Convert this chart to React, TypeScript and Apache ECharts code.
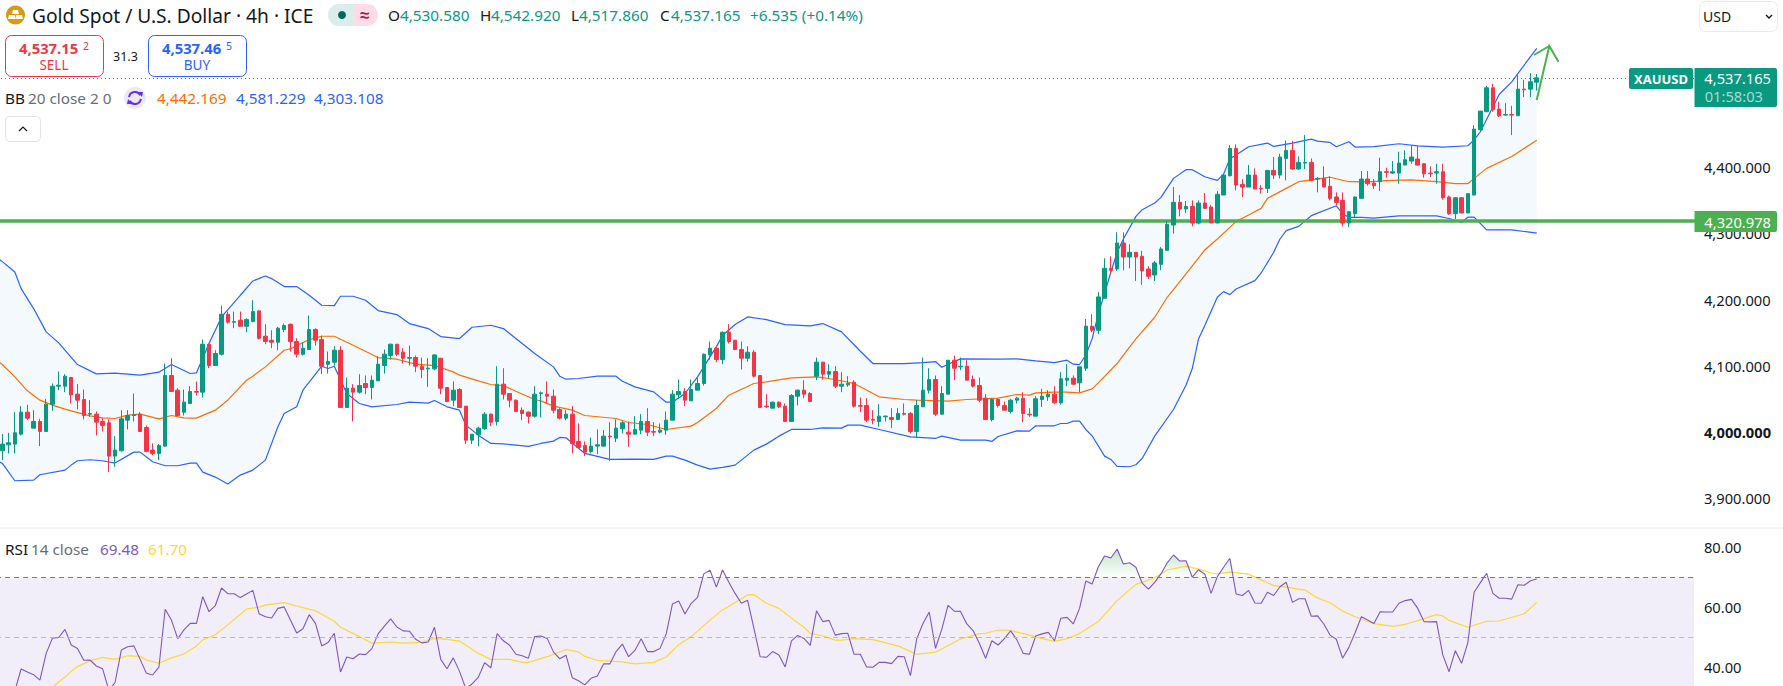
import React, { useEffect, useRef } from "react";
import * as echarts from "echarts";

// Values, one entry per 4h bar.
const opens = [3974,3983,3984,3999,4032,4008,4018,4003,4044,4071,4071,4084,4059,4051,4029,4029,4018,4016,3966,3974,4020,4027,4029,4009,3975,3970,3981,4087,4065,4032,4045,4063,4062,4134,4102,4119,4179,4167,4170,4161,4168,4184,4146,4140,4137,4156,4164,4138,4119,4126,4156,4141,4104,4107,4125,4039,4068,4062,4075,4069,4079,4102,4117,4134,4122,4113,4114,4101,4097,4097,4113,4069,4050,4066,4041,3990,3998,4007,4029,4018,4074,4060,4050,4035,4032,4026,4060,4059,4056,4036,4023,4029,3988,3982,3973,3981,3981,3996,3993,4007,4002,3999,4005,4018,4003,4002,4005,4020,4058,4063,4049,4065,4075,4118,4128,4111,4152,4140,4126,4113,4122,4087,4041,4038,4047,4041,4018,4056,4065,4060,4086,4107,4089,4093,4071,4073,4077,4042,4042,4021,4018,4025,4024,4021,4030,4030,4003,4040,4065,4081,4029,4059,4110,4100,4101,4081,4072,4053,4021,4051,4042,4033,4050,4053,4029,4026,4051,4055,4059,4046,4080,4083,4076,4098,4161,4155,4203,4248,4247,4286,4265,4272,4266,4247,4238,4254,4275,4313,4347,4337,4341,4316,4346,4340,4316,4358,4387,4428,4374,4370,4388,4368,4368,4395,4388,4413,4425,4397,4406,4407,4382,4383,4371,4355,4350,4316,4330,4353,4382,4376,4378,4393,4391,4391,4403,4409,4412,4405,4391,4391,4393,4355,4330,4354,4331,4358,4456,4483,4519,4487,4478,4479,4477,4517,4517];
const closes = [3984,3986,4001,4032,4023,4018,4003,4044,4071,4072.5,4086,4058,4050,4027,4030,4017,4012,3966,3975,4022,4027,4028,4003,3973,3970,3982,4087,4063,4027,4047,4063,4062,4134,4102,4120,4179,4167,4168,4161,4171,4183,4143,4138,4137,4158,4162,4138,4119,4128,4156,4140,4101,4108,4125,4039,4068,4062,4072,4069,4080,4104,4119,4134,4119,4113,4114,4101,4096,4098,4118,4068,4048,4065,4039,3990,3999,4008,4029,4017,4074,4059,4050,4033,4030,4026,4059,4061,4056,4035,4023,4029,3985,3979,3972,3981,3983,3996,3995,4008,4016,3999,4006,4018,4002,4002,4005,4020,4059,4063,4050,4066,4075,4119,4128,4111,4152,4138,4126,4113,4122,4086,4039,4040,4047,4040,4018,4057,4065,4059,4048,4107,4089,4093,4071,4074,4075,4041,4041,4020,4020,4026,4026,4021,4030,4029,4003,4042,4065,4081,4029,4060,4110,4098,4101,4080,4071,4050,4021,4051,4042,4035,4050,4053,4030,4028,4052,4056,4059,4046,4082,4083,4074,4100,4161,4155,4205,4248,4245,4286,4265,4272,4265,4244,4236,4256,4277,4314,4347,4337,4341,4316,4346,4338,4316,4359,4388,4428,4373,4370,4388,4367,4367,4395,4388,4415,4425,4397,4407,4407,4380,4383,4370,4353,4347,4316,4333,4355,4382,4375,4372,4393,4392,4393,4406,4411,4415,4403,4390,4390,4393,4354,4330,4354,4331,4360,4457,4484,4519,4486,4477,4479,4478,4517,4516,4528];
const highs = [3999,4001,4032,4041,4043,4035,4022,4052,4075,4093,4089,4085,4074,4066,4050,4033,4023,4021,3996,4035,4035,4060,4032,4012,3985,3984,4105,4113,4068,4066,4071,4078,4141,4135,4125,4192,4183,4183,4183,4173,4200,4185,4164,4155,4160,4165,4165,4143,4137,4177,4158,4147,4123,4131,4131,4084,4074,4089,4087,4087,4116,4126,4135,4134,4128,4132,4117,4114,4113,4119,4113,4069,4078,4068,4041,3999,4010,4032,4030,4101,4098,4060,4051,4039,4033,4071,4063,4078,4066,4038,4035,4041,4015,3988,3994,4006,4005,4017,4021,4019,4018,4026,4029,4038,4017,4015,4033,4065,4081,4068,4081,4084,4120,4138,4132,4153,4164,4140,4138,4131,4125,4087,4059,4048,4048,4045,4059,4066,4080,4062,4114,4108,4104,4101,4092,4086,4080,4054,4053,4035,4044,4027,4038,4038,4045,4032,4050,4114,4098,4087,4071,4110,4117,4114,4110,4087,4084,4059,4053,4053,4048,4052,4055,4062,4038,4056,4067,4065,4071,4092,4104,4087,4100,4172,4179,4212,4263,4266,4302,4302,4284,4272,4274,4251,4259,4280,4319,4370,4358,4349,4350,4350,4361,4343,4364,4388,4433,4434,4382,4403,4398,4373,4395,4415,4420,4440,4439,4416,4448,4413,4385,4401,4386,4362,4362,4333,4356,4394,4394,4382,4414,4399,4409,4423,4425,4432,4432,4406,4401,4405,4405,4357,4355,4354,4361,4463,4484,4522,4525,4498,4496,4492,4538,4531,4541];
const lows = [3960,3970,3970,3997,4020,4008,3981,4003,4034,4065,4062,4045,4036,4021,4025,3997,4003,3942,3950,3973,4006,4018,4003,3972,3967,3960,3980,4063,4026,4027,4044,4057,4054,4098,4102,4117,4165,4158,4161,4152,4167,4141,4134,4128,4125,4152,4123,4114,4117,4126,4132,4089,4090,4102,4039,4038,4018,4060,4059,4051,4079,4090,4111,4116,4105,4102,4092,4083,4070,4095,4059,4047,4041,4039,3984,3984,3981,4005,4011,4012,4051,4039,4033,4020,4015,4024,4024,4045,4030,4021,4020,3970,3978,3966,3970,3969,3980,3959,3987,4000,3980,3999,3999,3996,3996,4000,3998,4020,4052,4041,4049,4065,4072,4111,4107,4104,4135,4125,4096,4108,4084,4038,4038,4038,4038,4018,4018,4042,4053,4047,4080,4081,4083,4068,4062,4070,4039,4032,4017,4014,4010,4018,4008,4020,4027,4000,3993,4040,4060,4026,4028,4059,4080,4095,4080,4069,4047,4020,4018,4039,4035,4030,4045,4017,4025,4026,4040,4049,4044,4043,4071,4073,4062,4094,4152,4149,4203,4241,4244,4245,4248,4229,4223,4232,4229,4245,4275,4300,4326,4331,4311,4314,4338,4316,4316,4358,4386,4365,4355,4370,4367,4360,4361,4382,4383,4380,4396,4396,4397,4379,4362,4370,4350,4343,4311,4310,4325,4353,4372,4367,4364,4384,4390,4375,4403,4405,4402,4384,4385,4375,4351,4328,4322,4331,4331,4358,4453,4483,4483,4475,4477,4448,4477,4505,4505];
const lastBar = { open: 4530.58, close: 4537.165, low: 4517.86, high: 4542.92 };

// Bollinger bands: [bar number, price] at each corner of the drawn lines.
const bbUpper = [[-1,4265],[0,4258],[2,4242.5],[3,4217.5],[5,4187.5],[7,4152.5],[9,4136],[12,4103.5],[15,4089.5],[18,4090.5],[22,4087.5],[25,4092],[27,4103.5],[30,4090],[31,4091],[33,4135],[35,4175],[38,4207.5],[40,4229],[42,4236.5],[43,4232.5],[45,4220.5],[47,4220.5],[49,4207.5],[51,4192.5],[53,4192],[54,4206],[56,4206],[58,4200],[60,4184.5],[63,4178.5],[65,4165],[68,4157.5],[70,4145.5],[73,4142.5],[75,4159.5],[78,4162.5],[80,4157.5],[81,4150],[83,4135],[85,4120],[88,4100],[89,4086],[90,4081.5],[92,4082.5],[95,4086],[98,4086],[99,4078.5],[101,4070],[104,4062.5],[106,4047],[107,4047],[109,4060],[111,4085],[114,4130],[115,4147.5],[117,4163.5],[119,4175],[122,4171],[125,4163.5],[129,4161.5],[131,4165],[134,4152.5],[137,4123.5],[139,4105],[144,4105],[147,4106.5],[149,4108],[150,4099.5],[151,4104],[153,4112],[159,4111.5],[162,4112],[165,4109],[168,4106.5],[170,4110],[171,4104],[172,4103.5],[173,4117.5],[174,4142],[175,4179.5],[177,4242],[178,4272],[179,4292],[181,4326],[182,4336],[184,4346],[185,4354.5],[187,4383],[189,4396],[190,4396],[192,4385.5],[194,4380],[195,4389.5],[196,4412],[199,4430.5],[202,4436],[203,4431],[206,4436],[209,4442],[210,4439],[212,4437],[213,4430.5],[215,4438],[216,4430],[219,4430.75],[223,4435],[226,4431.75],[230,4430],[234,4432],[235,4440.75],[236,4453],[239,4509],[241,4528],[245,4578.25]];
const bbBasis = [[-1,4110],[0,4103.5],[2,4085],[4,4064],[6,4050],[8,4042.5],[10,4036.5],[14,4026.5],[16,4023.5],[18,4022.5],[20,4027.5],[22,4029],[25,4022],[27,4027],[29,4023.5],[31,4023],[34,4035],[36,4050],[39,4080],[40,4086],[42,4100],[45,4125],[46,4127],[49,4141],[51,4146],[53,4146],[56,4132.5],[60,4114],[63,4111.5],[66,4104],[69,4102],[72,4092.5],[73,4087.5],[76,4079],[78,4073.5],[80,4072],[82,4063.5],[85,4051],[86,4049],[88,4041],[91,4035],[93,4027],[98,4022.5],[100,4016.5],[103,4013.5],[106,4006],[110,4011],[111,4016.5],[114,4037.5],[116,4057.5],[120,4075],[122,4077.5],[126,4083.5],[130,4085],[133,4081],[136,4075],[140,4055],[144,4051],[146,4050],[151,4048.5],[154,4051],[159,4053],[162,4058.5],[164,4057.5],[165,4061],[168,4062],[170,4062],[172,4061],[174,4067],[175,4076],[178,4105],[180,4130],[181,4142],[184,4174.5],[186,4204.5],[189,4239.5],[192,4275.5],[194,4292],[196,4309.5],[197,4318.5],[199,4328],[201,4338],[202,4353],[205,4368],[207,4378],[210,4381.75],[212,4384.75],[215,4378],[218,4377.75],[221,4379.75],[225,4380.75],[229,4378],[232,4375],[234,4375],[235,4383],[237,4398],[241,4415.75],[245,4440.25]];
const bbLower = [[-1,3960],[0,3955],[2,3929],[5,3930],[6,3938],[10,3945],[11,3952.5],[12,3959],[14,3960.5],[16,3959],[18,3955.5],[21,3972],[22,3972],[24,3957.5],[26,3951.5],[28,3951.5],[30,3955.5],[31,3955.5],[32,3942],[34,3934.5],[36,3924],[38,3937.5],[40,3945],[41,3952.5],[42,3960],[44,4010],[45,4030],[47,4040],[48,4065],[51,4101],[52,4097.5],[53,4101],[55,4060],[57,4045],[59,4040],[63,4043.5],[65,4047],[68,4045.5],[69,4049.5],[71,4040],[73,4035],[74,4012.5],[76,3997.5],[78,3985],[80,3984.5],[84,3980.5],[86,3985],[88,3988.5],[89,3994],[90,3993.5],[93,3970],[97,3961],[101,3961.5],[104,3961],[106,3966],[107,3966],[109,3960],[111,3952.5],[113,3946.5],[115,3949],[117,3952.5],[118,3960],[120,3975],[122,3984],[124,3996],[126,4006],[129,4006],[131,4008.5],[134,4008],[135,4012.5],[137,4012.5],[140,4006],[145,3995],[149,3992.5],[150,3996],[153,3990],[157,3990],[158,3988],[159,3995.5],[162,4004],[164,4003.5],[165,4011.5],[168,4011.5],[169,4015],[170,4015],[171,4018.5],[172,4018.5],[173,4006],[174,3996.5],[176,3966],[177,3961],[178,3950.5],[180,3950],[181,3953],[182,3962.5],[184,3996],[187,4036],[189,4072.5],[190,4097.5],[191,4142],[192,4162],[194,4204.5],[195,4213],[196,4208.5],[197,4217],[200,4229.5],[201,4241],[203,4272],[204,4292],[205,4304.5],[207,4311],[209,4327],[213,4342],[214,4329.5],[215,4324.5],[217,4324.5],[219,4323.25],[223,4326.75],[229,4326.75],[231,4322.75],[233,4316.75],[234,4324.75],[235,4324.75],[237,4305.75],[241,4305.75],[245,4300.75]];

const rsiValues = [29,30,32.2,39.5,38.5,37.6,35.8,44.7,49.8,50,52.7,47.5,46.3,42.4,42.5,40.5,39.6,32.5,35,45.8,46.9,47.2,42.7,38.1,37.5,40.1,59.4,55.8,49.6,52.5,54.7,54.7,63.6,58.6,60.6,66.5,64.6,64.6,63.3,64.5,65.7,57.9,56.9,56.5,59.7,60.2,55.8,51.5,52.9,57.6,54.7,47.2,48.3,51.4,38.5,43.5,42.9,44.5,44.3,46.3,51.2,53.8,56.2,53.5,52.2,52.1,49.4,48.2,48.5,53.4,42.7,39.6,43.2,38.7,33,34.5,36.7,41.6,39.9,51.3,48.9,47.4,44.4,43.9,43.1,50.3,50.5,49.7,45.2,42.9,44.1,36.6,35.6,34.2,36.4,37.2,41.2,41.2,45.3,47.8,43.6,45.7,49.6,45.3,45.3,46.3,51.2,61.2,62.2,57.8,61.4,63.4,71.2,72.4,66.8,72.5,68.4,64.7,61.4,62.4,53.1,43.6,43.4,45.3,44.2,40.2,48.9,50.7,49.7,47.4,58.9,55.3,55.7,50.8,51.3,51.4,44.4,44.4,40.2,40.1,41.7,41.7,41.3,43.7,43.6,37.3,49.5,54.7,58.5,46.4,52.7,60.7,58.8,58.7,54.5,52.3,48.1,43.1,48.9,47.5,49.6,52.2,49.2,44.7,44.4,50.5,51.2,51.7,48.9,56.4,56.7,54.5,59.7,68.8,67.8,73.6,77.2,76.5,79.5,74.5,74.9,73.4,68.1,66.1,68.4,71.2,74.9,77.5,75.5,75.6,70.1,72.6,71.1,64.7,70.3,73.4,76.4,64.5,64,65.7,61.5,61.4,65.1,64,66.9,68.4,61.7,62.9,62.9,57.1,57.2,54.5,50.8,49.4,43.1,46.7,51.6,56.9,55.8,54.7,58.6,58.5,58.5,61.4,62.3,62.7,59.7,55.3,55.2,55.3,44.2,38.6,45.6,41.4,48.3,65.1,68.3,71.4,64.7,63.1,63.1,62.8,67.6,67.4,68.9,69.48];
const rsiAverage = [[8,33.5],[10,36.8],[11,38.7],[12,40.3],[14,42.2],[16,43.4],[18,42.7],[20,43.9],[22,43.7],[23,42.5],[25,41.4],[27,43.2],[29,44.5],[31,47.2],[32,49.2],[34,50.9],[36,54.2],[39,59.5],[41,60.1],[42,60.8],[45,61.6],[47,60.5],[50,58.9],[53,55.4],[54,53.4],[57,50.3],[59,48.1],[62,48.5],[64,48.1],[67,48.4],[69,49.7],[71,49.4],[73,48.8],[76,44.7],[78,42.7],[81,42.7],[83,41.7],[84,41.7],[87,43.6],[90,46],[92,45.2],[93,43.7],[95,42.4],[99,41.9],[101,41.2],[104,41.7],[106,43.5],[108,47.6],[110,50.3],[113,55.8],[115,59.2],[119,64.2],[120,64.3],[122,61.4],[124,59.7],[127,54.9],[128,53.4],[129,51.4],[131,50.5],[133,49.1],[134,49.1],[136,49.6],[139,49.3],[143,47.2],[146,44.4],[149,45.1],[153,49.5],[156,51.3],[157,51.4],[159,52.5],[161,52.4],[162,51.8],[164,50.8],[165,50.1],[168,48.7],[170,49.6],[172,51.3],[175,55.3],[178,62.3],[181,67.7],[184,69.9],[186,72.5],[189,73.8],[191,72.8],[193,71.5],[194,71.2],[196,71.8],[199,71.1],[201,69.2],[203,67.3],[205,66.8],[208,65.8],[210,63.2],[212,61.6],[214,58.8],[216,56.9],[219,54.6],[222,53.7],[224,54.4],[226,55.6],[229,57.6],[230,57.2],[231,55.7],[234,53.4],[237,55.4],[239,55.5],[243,57.9],[245,61.7]];

const priceTicks = [3900, 4000, 4100, 4200, 4300, 4400];
const rsiTicks = [40, 60, 80];
const supportLevel = 4320.978;
const rsiOverbought = 70;
const rsiMiddle = 50;

const FONT = "'Noto Sans', sans-serif";
const UP = "#089981";
const DOWN = "#F23645";
const BLUE = "#2962FF";
const ORANGE = "#FF6D00";
const PURPLE = "#7E57C2";
const YELLOW = "#FDD835";
const LEVEL = "#4CAF50";
const INK = "#131722";
const GREY = "#6A6D78";

// The chart's div sticks out this far past the left page edge so that the
// plot (and its lines) can start left of the page, as in the reference.
const BLEED = 20;

// Readings were taken with a slightly-off ruler; this maps them onto the printed scale.
const ruler = (v: number) => 4000 + (v - 4000) * 1.0061;
const LEAD = 1; // one empty slot before the first bar, so the lines reach the left edge
const SLOTS = 272;
const categories = Array.from({ length: SLOTS }, (_, i) => String(i));
const knots = (rows: number[][], scale = true) =>
  rows.map(([i, v]) => [i + LEAD, scale ? ruler(v) : v]);

const fmtPrice = (v: number) =>
  v.toFixed(3).replace(/\B(?=(\d{3})+(?!\d))(?=.*\.)/g, ",");

const txt = (text: string, x: number, y: number, size: number, fill: string, extra: any = {}) => ({
  type: "text",
  z: 100,
  silent: true,
  style: {
    text, x, y, fill, fontSize: size, fontFamily: FONT,
    verticalAlign: "middle", align: "left", ...extra,
  },
});
const box = (x: number, y: number, width: number, height: number, style: any, r: any = 0) => ({
  type: "rect",
  z: 90,
  silent: true,
  shape: { x, y, width, height, r },
  style,
});

function buildGraphics() {
  const LEG = 15.3;
  const g: any[] = [
    // RSI 30-70 band and pane divider
    { type: "rect", z: 0, silent: true, shape: { x: 0, y: 577.5, width: 1694, height: 109 }, style: { fill: "#F1EDF9" } },
    { type: "line", z: 1, silent: true, shape: { x1: 0, y1: 528, x2: 1783, y2: 528 }, style: { stroke: "#E6E8EE", lineWidth: 1 } },

    // header
    { type: "circle", z: 90, silent: true, shape: { cx: 15.5, cy: 15, r: 9.5 }, style: { fill: "#D99A0F" } },
    { type: "polygon", z: 91, silent: true, shape: { points: [[13, 10], [18, 10], [19, 14], [12, 14]] }, style: { fill: "#FFF" } },
    { type: "polygon", z: 91, silent: true, shape: { points: [[9, 15], [15, 15], [15.5, 19], [8, 19]] }, style: { fill: "#FFF" } },
    { type: "polygon", z: 91, silent: true, shape: { points: [[16, 15], [22, 15], [23, 19], [15.5, 19]] }, style: { fill: "#FFF" } },
    txt("Gold Spot / U.S. Dollar · 4h · ICE", 32, 15, 19.2, INK),
    box(328, 4, 25, 22, { fill: "#D7EEEA" }, [11, 0, 0, 11]),
    box(353, 4, 25, 22, { fill: "#FBDCE7" }, [0, 11, 11, 0]),
    { type: "circle", z: 91, silent: true, shape: { cx: 342, cy: 15, r: 4 }, style: { fill: "#00695C" } },
    txt("≈", 360, 14, 17, "#B0155E", { fontWeight: "bold" }),
    txt("O", 388, 15, LEG, INK),
    txt("4,530.580", 400, 15, LEG, UP),
    txt("H", 480, 15, LEG, INK),
    txt("4,542.920", 491, 15, LEG, UP),
    txt("L", 571, 15, LEG, INK),
    txt("4,517.860", 579, 15, LEG, UP),
    txt("C", 660, 15, LEG, INK),
    txt("4,537.165", 671, 15, LEG, UP),
    txt("+6.535 (+0.14%)", 750, 15, LEG, UP),

    // sell / buy
    box(5.5, 35.5, 98, 41, { fill: "#FFF", stroke: DOWN, lineWidth: 1 }, 6),
    txt("4,537.15", 19, 48, 14.8, DOWN, { fontWeight: "bold" }),
    txt("2", 83, 46, 10.5, DOWN),
    txt("SELL", 54, 65, 13.5, DOWN, { align: "center" }),
    txt("31.3", 113, 56, 12.5, INK),
    box(148.5, 35.5, 98, 41, { fill: "#FFF", stroke: BLUE, lineWidth: 1 }, 6),
    txt("4,537.46", 162, 48, 14.8, BLUE, { fontWeight: "bold" }),
    txt("5", 226, 46, 10.5, BLUE),
    txt("BUY", 197, 65, 13.5, BLUE, { align: "center" }),

    // Bollinger legend
    txt("BB", 5, 98, LEG, INK),
    txt("20 close 2 0", 28, 98, LEG, GREY),
    { type: "circle", z: 90, silent: true, shape: { cx: 135, cy: 98, r: 11 }, style: { fill: "#EDE7F6" } },
    { type: "arc", z: 91, silent: true, shape: { cx: 135, cy: 98, r: 6, startAngle: Math.PI * 1.05, endAngle: Math.PI * 1.85 }, style: { stroke: "#5E35E8", lineWidth: 2, fill: "none" } },
    { type: "arc", z: 91, silent: true, shape: { cx: 135, cy: 98, r: 6, startAngle: Math.PI * 0.05, endAngle: Math.PI * 0.85 }, style: { stroke: "#5E35E8", lineWidth: 2, fill: "none" } },
    { type: "polygon", z: 91, silent: true, shape: { points: [[138, 92], [143, 92], [142, 97]] }, style: { fill: "#5E35E8" } },
    { type: "polygon", z: 91, silent: true, shape: { points: [[127, 104], [132, 104], [128, 99]] }, style: { fill: "#5E35E8" } },
    txt("4,442.169", 157, 98, LEG, ORANGE),
    txt("4,581.229", 236, 98, LEG, BLUE),
    txt("4,303.108", 314, 98, LEG, BLUE),

    // collapse button
    box(5.5, 116.5, 35, 25, { fill: "#FFF", stroke: "#E0E3EB", lineWidth: 1 }, 4),
    { type: "polyline", z: 91, silent: true, shape: { points: [[19, 131], [23, 127], [27, 131]] }, style: { stroke: INK, lineWidth: 1.2, fill: "none" } },

    // currency selector
    box(1699.5, 1.5, 78, 30, { fill: "#FFF", stroke: "#E8EAEF", lineWidth: 1 }, 6),
    txt("USD", 1703, 16, 14, INK),
    { type: "polyline", z: 91, silent: true, shape: { points: [[1766, 15], [1769, 18], [1772, 15]] }, style: { stroke: INK, lineWidth: 1.4, fill: "none" } },

    // RSI legend
    txt("RSI", 5, 549, LEG, INK),
    txt("14 close", 31, 549, LEG, GREY),
    txt("69.48", 100, 549, LEG, PURPLE),
    txt("61.70", 148, 549, LEG, YELLOW),

    // drawn arrow
    { type: "polyline", z: 60, silent: true, shape: { points: [[1536.7, 100], [1549.3, 46], [1558.5, 61.7]] }, style: { stroke: LEVEL, lineWidth: 2, fill: "none" } },
    { type: "line", z: 60, silent: true, shape: { x1: 1534, y1: 55, x2: 1549.3, y2: 46 }, style: { stroke: LEVEL, lineWidth: 2 } },

    // price tags
    box(1629, 68, 64, 21, { fill: UP }, 2),
    txt("XAUUSD", 1661, 78.5, 13, "#FFF", { align: "center", fontWeight: "bold" }),
    box(1694.5, 68, 82.5, 39, { fill: UP }, [0, 2, 2, 0]),
    txt("4,537.165", 1771, 78, 14.7, "#FFF", { align: "right" }),
    txt("01:58:03", 1763, 96, 14.7, "#A6DCD0", { align: "right" }),
    box(1694.5, 211, 82.5, 21, { fill: LEVEL }, [0, 2, 2, 0]),
    txt("4,320.978", 1771, 221.5, 14.7, "#FFF", { align: "right" }),
  ];
  return [{ type: "group", x: BLEED, y: 0, children: g }];
}

function buildOption() {
  const candles: any[] = ["-"];
  opens.forEach((o, i) => {
    candles.push([ruler(o), ruler(closes[i]), ruler(lows[i]), ruler(highs[i])]);
  });
  candles.push([lastBar.open, lastBar.close, lastBar.low, lastBar.high]);

  const upper = knots(bbUpper);
  const basis = knots(bbBasis);
  const lower = knots(bbLower);
  const rsi = rsiValues.map((v, i) => [i + LEAD, v]);
  const rsiMa = knots(rsiAverage, false);
  const lastSlot = SLOTS - 1;

  const hidden = { show: false };
  const xAxisBase = {
    type: "category",
    data: categories,
    boundaryGap: true,
    axisLine: hidden,
    axisTick: hidden,
    axisLabel: hidden,
    splitLine: hidden,
  };
  const yAxisBase = {
    type: "value",
    position: "right",
    scale: true,
    axisLine: hidden,
    axisTick: hidden,
    splitLine: hidden,
  };

  const line = (name: string, data: any, color: string, xi: number, width = 1.2, z = 3) => ({
    name,
    type: "line",
    data,
    xAxisIndex: xi,
    yAxisIndex: xi,
    symbol: "none",
    showSymbol: false,
    silent: true,
    z,
    lineStyle: { color, width },
  });

  return {
    animation: false,
    backgroundColor: "#FFFFFF",
    textStyle: { fontFamily: FONT },
    grid: [
      { left: BLEED - 7.06, width: 1703.5, top: 0, height: 528 },
      { left: BLEED - 7.06, width: 1703.5, top: 528, height: 158 },
    ],
    xAxis: [
      { ...xAxisBase, gridIndex: 0 },
      { ...xAxisBase, gridIndex: 1 },
    ],
    yAxis: [
      {
        ...yAxisBase,
        gridIndex: 0,
        min: 3857.2,
        max: 4654.8,
        axisLabel: {
          show: true,
          customValues: priceTicks,
          margin: 7.5,
          color: INK,
          fontSize: 14.7,
          fontFamily: FONT,
          padding: [0, 0, 3, 0],
          formatter: (v: number) => (v === 4000 ? `{b|${fmtPrice(v)}}` : fmtPrice(v)),
          rich: { b: { fontWeight: "bold", fontSize: 14.7, color: INK, fontFamily: FONT } },
        },
      },
      {
        ...yAxisBase,
        gridIndex: 1,
        min: 33.83,
        max: 86.5,
        axisLabel: {
          show: true,
          customValues: rsiTicks,
          margin: 7.5,
          color: INK,
          fontSize: 14.7,
          fontFamily: FONT,
          padding: [0, 0, 3, 0],
          formatter: (v: number) => v.toFixed(2),
        },
      },
    ],
    graphic: { elements: buildGraphics() },
    series: [
      {
        name: "BB background",
        type: "custom",
        xAxisIndex: 0,
        yAxisIndex: 0,
        silent: true,
        z: 1,
        data: [[LEAD, 4000]],
        renderItem: (_p: any, api: any) => ({
          type: "polygon",
          shape: { points: [...upper, ...[...lower].reverse()].map((pt) => api.coord(pt)) },
          style: { fill: "#F4F9FE" },
        }),
      },
      line("BB upper", upper, BLUE, 0),
      line("BB lower", lower, BLUE, 0),
      line("BB basis", basis, ORANGE, 0),
      {
        name: "XAUUSD",
        type: "candlestick",
        data: candles,
        xAxisIndex: 0,
        yAxisIndex: 0,
        barWidth: 4,
        silent: true,
        z: 5,
        itemStyle: { color: UP, color0: DOWN, borderColor: UP, borderColor0: DOWN, borderWidth: 1 },
        markLine: {
          silent: true,
          symbol: "none",
          animation: false,
          label: { show: false },
          data: [
            { yAxis: supportLevel, lineStyle: { color: LEVEL, width: 3.5, type: "solid" } },
            { yAxis: lastBar.close, lineStyle: { color: UP, width: 1, type: [1, 3] } },
          ],
        },
      },
      {
        name: "RSI overbought",
        type: "custom",
        xAxisIndex: 1,
        yAxisIndex: 1,
        silent: true,
        z: 2,
        data: [[LEAD, rsiOverbought]],
        renderItem: (_p: any, api: any) => {
          const children: any[] = [];
          let run: number[][] = [];
          const flush = () => {
            if (run.length > 2) {
              children.push({
                type: "polygon",
                shape: { points: run.map((pt) => api.coord(pt)) },
                style: {
                  fill: new echarts.graphic.LinearGradient(0, 552, 0, 577.5, [
                    { offset: 0, color: "rgba(76,175,80,0.30)" },
                    { offset: 1, color: "rgba(76,175,80,0)" },
                  ], true),
                },
              });
            }
            run = [];
          };
          rsi.forEach((pt, k) => {
            const prev = rsi[k - 1];
            if (pt[1] > rsiOverbought) {
              if (prev && prev[1] <= rsiOverbought) {
                const t = (rsiOverbought - prev[1]) / (pt[1] - prev[1]);
                run.push([prev[0] + t, rsiOverbought]);
              }
              run.push(pt);
            } else if (prev && prev[1] > rsiOverbought) {
              const t = (prev[1] - rsiOverbought) / (prev[1] - pt[1]);
              run.push([prev[0] + t, rsiOverbought]);
              flush();
            }
          });
          flush();
          return { type: "group", children };
        },
      },
      {
        ...line("RSI", rsi, PURPLE, 1, 1.1, 4),
        markLine: {
          silent: true,
          symbol: "none",
          animation: false,
          label: { show: false },
          data: [
            [
              { coord: [0, rsiOverbought], lineStyle: { color: "#787B86", width: 1, type: [5, 4] } },
              { coord: [lastSlot, rsiOverbought] },
            ],
            [
              { coord: [0, rsiMiddle], lineStyle: { color: "#B9B7C3", width: 1, type: [5, 4] } },
              { coord: [lastSlot, rsiMiddle] },
            ],
          ],
        },
      },
      line("RSI average", rsiMa, YELLOW, 1, 1.2, 3),
    ],
  };
}

export default function App() {
  const ref = useRef<HTMLDivElement>(null);
  useEffect(() => {
    document.body.style.margin = "0";
    if (!ref.current) return;
    const chart = echarts.init(ref.current, undefined, { renderer: "svg" });
    chart.setOption(buildOption() as any);
    return () => chart.dispose();
  }, []);
  return (
    <div
      ref={ref}
      style={{ position: "absolute", left: -BLEED, top: 0, width: 1783 + BLEED, height: 686, overflow: "hidden" }}
    />
  );
}
